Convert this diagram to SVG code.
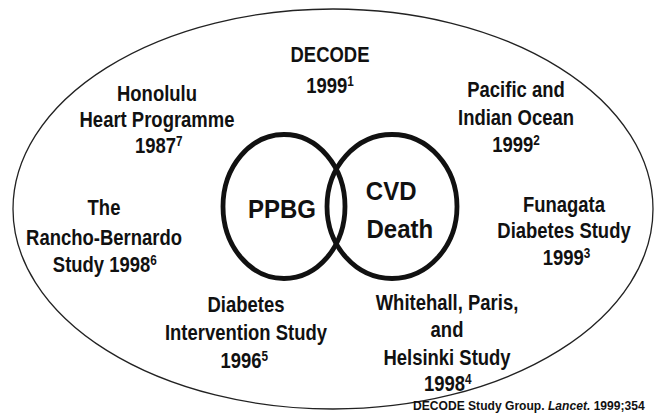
<svg xmlns="http://www.w3.org/2000/svg" width="654" height="414" viewBox="0 0 654 414">
<style>
.lbl{font-family:"Liberation Sans",Arial,sans-serif;font-weight:bold;font-size:22px;text-anchor:middle;fill:#111}
.big{font-family:"Liberation Sans",Arial,sans-serif;font-weight:bold;font-size:25px;text-anchor:middle;fill:#111}
.sup{font-size:14px}
.ring{fill:none;stroke:#111;stroke-width:4.8}
.frame{fill:none;stroke:#222;stroke-width:1.3}
.cite{font-family:"Liberation Sans",Arial,sans-serif;font-weight:bold;font-size:13px;fill:#111}
</style>
<rect width="654" height="414" fill="#fff"/>
<g id="frame"><ellipse class="frame" cx="333" cy="209" rx="320" ry="200"/></g>
<g id="ppbg">
<ellipse class="ring" cx="284" cy="206.5" rx="61" ry="72"/>
<text class="big" transform="translate(282 0) scale(0.96 1)"><tspan x="0" y="218">PPBG</tspan></text>
</g>
<g id="cvd-death">
<ellipse class="ring" cx="392" cy="206.5" rx="65" ry="72"/>
<text class="big" transform="translate(395 0) scale(0.96 1)"><tspan x="-4" y="200">CVD</tspan><tspan x="5" y="238">Death</tspan></text>
</g>
<g id="decode">
<text class="lbl" transform="translate(330 0) scale(0.84 1)"><tspan x="0" y="62">DECODE</tspan><tspan x="0" y="93">1999<tspan class="sup" dy="-7">1</tspan></tspan></text>
</g>
<g id="honolulu">
<text class="lbl" transform="translate(157 0) scale(0.84 1)"><tspan x="0" y="101">Honolulu</tspan><tspan x="0" y="127">Heart Programme</tspan><tspan x="2" y="153">1987<tspan class="sup" dy="-7">7</tspan></tspan></text>
</g>
<g id="pacific">
<text class="lbl" transform="translate(516 0) scale(0.84 1)"><tspan x="0" y="97">Pacific and</tspan><tspan x="0" y="125">Indian Ocean</tspan><tspan x="0" y="152">1999<tspan class="sup" dy="-7">2</tspan></tspan></text>
</g>
<g id="rancho">
<text class="lbl" transform="translate(104 0) scale(0.84 1)"><tspan x="0" y="215">The</tspan><tspan x="0" y="245">Rancho-Bernardo</tspan><tspan x="1" y="272">Study 1998<tspan class="sup" dy="-7">6</tspan></tspan></text>
</g>
<g id="funagata">
<text class="lbl" transform="translate(564 0) scale(0.84 1)"><tspan x="0" y="212">Funagata</tspan><tspan x="0" y="238">Diabetes Study</tspan><tspan x="3" y="265">1999<tspan class="sup" dy="-7">3</tspan></tspan></text>
</g>
<g id="dis">
<text class="lbl" transform="translate(246 0) scale(0.84 1)"><tspan x="0" y="312">Diabetes</tspan><tspan x="0" y="340">Intervention Study</tspan><tspan x="-2" y="368">1996<tspan class="sup" dy="-7">5</tspan></tspan></text>
</g>
<g id="whitehall">
<text class="lbl" transform="translate(447 0) scale(0.84 1)"><tspan x="0" y="310">Whitehall, Paris,</tspan><tspan x="0" y="337">and</tspan><tspan x="0" y="365">Helsinki Study</tspan><tspan x="1" y="391">1998<tspan class="sup" dy="-7">4</tspan></tspan></text>
</g>
<g id="citation">
<text class="cite" transform="translate(413 410) scale(0.93 1)">DECODE Study Group. <tspan font-style="italic">Lancet.</tspan> 1999;354</text>
</g>
</svg>
